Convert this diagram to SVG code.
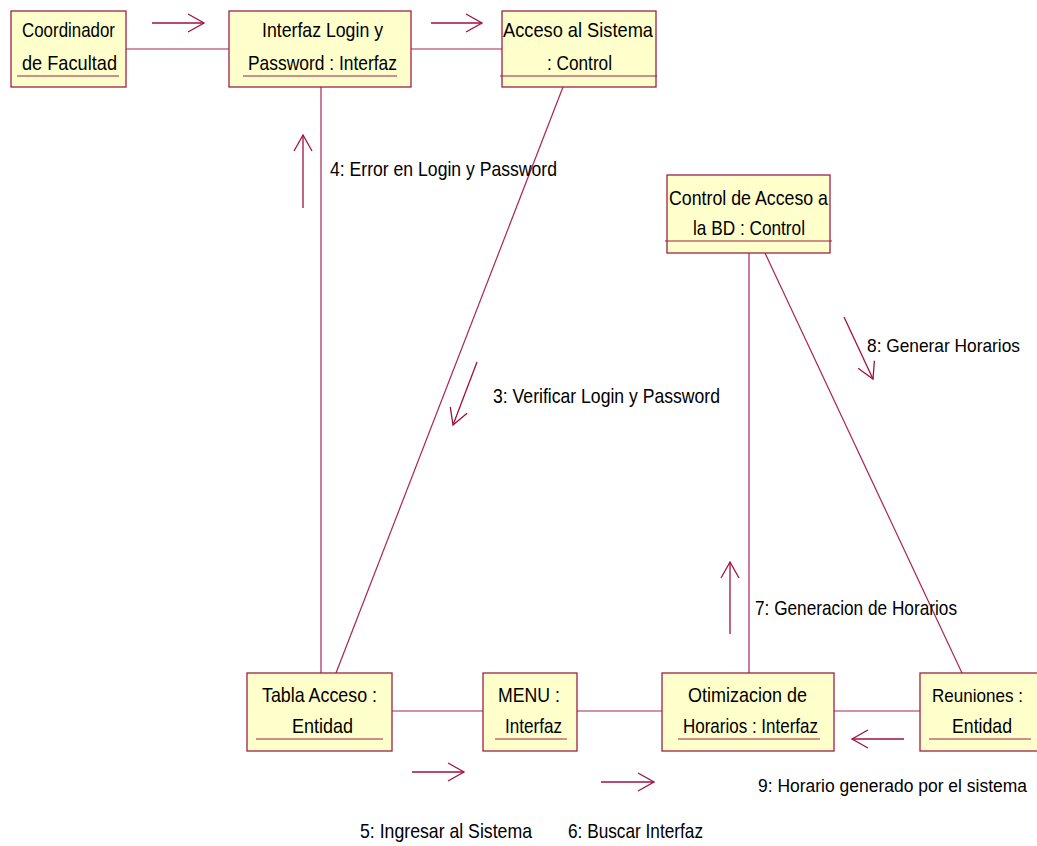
<svg xmlns="http://www.w3.org/2000/svg" width="1037" height="846" viewBox="0 0 1037 846">
  <defs>
    <style>
      .box { fill: #FFFFCB; stroke: #9E1F48; stroke-width: 1.3; }
      .rule { stroke: #9E1F48; stroke-width: 1.2; fill: none; }
      .link { stroke: #A8245A; stroke-width: 1.2; fill: none; }
      .msg { stroke: #A0103F; stroke-width: 1.3; fill: none; }
      text { font-family: "Liberation Sans", Arial, sans-serif; font-size: 21px; fill: #000; }
      .edge { font-size: 19px; }
      .long { font-size: 17.5px; }
    </style>
    <marker id="open" viewBox="0 0 20 20" refX="18" refY="10" markerWidth="20" markerHeight="20" markerUnits="userSpaceOnUse" orient="auto">
      <path d="M2,1 L18,10 L2,19" fill="none" stroke="#A0103F" stroke-width="1.3"/>
    </marker>
  </defs>

  <rect width="1037" height="846" fill="#FFFFFF"/>

  <!-- links between objects -->
  <g id="connectors">
    <line class="link" x1="126" y1="49" x2="229" y2="49"/>
    <line class="link" x1="411" y1="49" x2="502" y2="49"/>
    <line class="link" x1="321" y1="87" x2="321" y2="673"/>
    <line class="link" x1="563" y1="87" x2="336" y2="673"/>
    <line class="link" x1="749" y1="253" x2="749" y2="673"/>
    <line class="link" x1="765" y1="253" x2="962" y2="673"/>
    <line class="link" x1="392" y1="711" x2="483" y2="711"/>
    <line class="link" x1="577" y1="711" x2="662" y2="711"/>
    <line class="link" x1="834" y1="711" x2="920" y2="711"/>

    <!-- message arrows -->
    <line class="msg" x1="152" y1="23" x2="204" y2="23" marker-end="url(#open)"/>
    <line class="msg" x1="431" y1="23" x2="482" y2="23" marker-end="url(#open)"/>
    <line class="msg" x1="303" y1="208" x2="303" y2="135" marker-end="url(#open)"/>
    <line class="msg" x1="477" y1="362" x2="453" y2="425" marker-end="url(#open)"/>
    <line class="msg" x1="844" y1="317" x2="873" y2="379" marker-end="url(#open)"/>
    <line class="msg" x1="730" y1="634" x2="730" y2="562" marker-end="url(#open)"/>
    <line class="msg" x1="412" y1="772" x2="464" y2="772" marker-end="url(#open)"/>
    <line class="msg" x1="601" y1="782" x2="654" y2="782" marker-end="url(#open)"/>
    <line class="msg" x1="904" y1="739" x2="852" y2="739" marker-end="url(#open)"/>

    <!-- message labels -->
    <text x="330" y="176" textLength="227" lengthAdjust="spacingAndGlyphs">4: Error en Login y Password</text>
    <text x="493" y="403" textLength="227" lengthAdjust="spacingAndGlyphs">3: Verificar Login y Password</text>
    <text class="edge" x="867" y="352" textLength="153" lengthAdjust="spacingAndGlyphs">8: Generar Horarios</text>
    <text x="755" y="615" textLength="202" lengthAdjust="spacingAndGlyphs">7: Generacion de Horarios</text>
    <text x="360" y="838" textLength="172" lengthAdjust="spacingAndGlyphs">5: Ingresar al Sistema</text>
    <text x="568" y="838" textLength="135" lengthAdjust="spacingAndGlyphs">6: Buscar Interfaz</text>
    <text class="long" x="758" y="792" textLength="269" lengthAdjust="spacingAndGlyphs">9: Horario generado por el sistema</text>
  </g>

  <g id="coordinador">
    <rect class="box" x="11" y="11" width="115" height="76"/>
    <text x="22" y="37" textLength="93" lengthAdjust="spacingAndGlyphs">Coordinador</text>
    <text x="22" y="70" textLength="95" lengthAdjust="spacingAndGlyphs">de Facultad</text>
    <line class="rule" x1="17" y1="76" x2="119" y2="76"/>
  </g>

  <g id="interfaz-login">
    <rect class="box" x="229" y="11" width="182" height="76"/>
    <text x="262" y="37" textLength="121" lengthAdjust="spacingAndGlyphs">Interfaz Login y</text>
    <text x="248" y="70" textLength="149" lengthAdjust="spacingAndGlyphs">Password : Interfaz</text>
    <line class="rule" x1="243" y1="76" x2="397" y2="76"/>
  </g>

  <g id="acceso-sistema">
    <rect class="box" x="502" y="11" width="154" height="76"/>
    <text x="503" y="37" textLength="150" lengthAdjust="spacingAndGlyphs">Acceso al Sistema</text>
    <text x="547" y="70" textLength="65" lengthAdjust="spacingAndGlyphs">: Control</text>
    <line class="rule" x1="500" y1="76" x2="657" y2="76"/>
  </g>

  <g id="control-bd">
    <rect class="box" x="667" y="175" width="163" height="78"/>
    <text x="669" y="205" textLength="159" lengthAdjust="spacingAndGlyphs">Control de Acceso a</text>
    <text x="693" y="235" textLength="112" lengthAdjust="spacingAndGlyphs">la BD : Control</text>
    <line class="rule" x1="665" y1="241" x2="832" y2="241"/>
  </g>

  <g id="tabla-acceso">
    <rect class="box" x="247" y="673" width="145" height="78"/>
    <text x="262" y="702" textLength="115" lengthAdjust="spacingAndGlyphs">Tabla Acceso :</text>
    <text x="292" y="733" textLength="61" lengthAdjust="spacingAndGlyphs">Entidad</text>
    <line class="rule" x1="256" y1="739" x2="383" y2="739"/>
  </g>

  <g id="menu">
    <rect class="box" x="483" y="673" width="94" height="78"/>
    <text x="498" y="702" textLength="62" lengthAdjust="spacingAndGlyphs">MENU :</text>
    <text x="505" y="733" textLength="57" lengthAdjust="spacingAndGlyphs">Interfaz</text>
    <line class="rule" x1="495" y1="739" x2="567" y2="739"/>
  </g>

  <g id="optimizacion">
    <rect class="box" x="662" y="673" width="172" height="78"/>
    <text x="688" y="702" textLength="119" lengthAdjust="spacingAndGlyphs">Otimizacion de</text>
    <text x="683" y="733" textLength="135" lengthAdjust="spacingAndGlyphs">Horarios : Interfaz</text>
    <line class="rule" x1="678" y1="739" x2="820" y2="739"/>
  </g>

  <g id="reuniones">
    <rect class="box" x="920" y="673" width="125" height="78"/>
    <text class="edge" x="932" y="702" textLength="91" lengthAdjust="spacingAndGlyphs">Reuniones :</text>
    <text x="952" y="733" textLength="60" lengthAdjust="spacingAndGlyphs">Entidad</text>
    <line class="rule" x1="929" y1="739" x2="1031" y2="739"/>
  </g>
</svg>
